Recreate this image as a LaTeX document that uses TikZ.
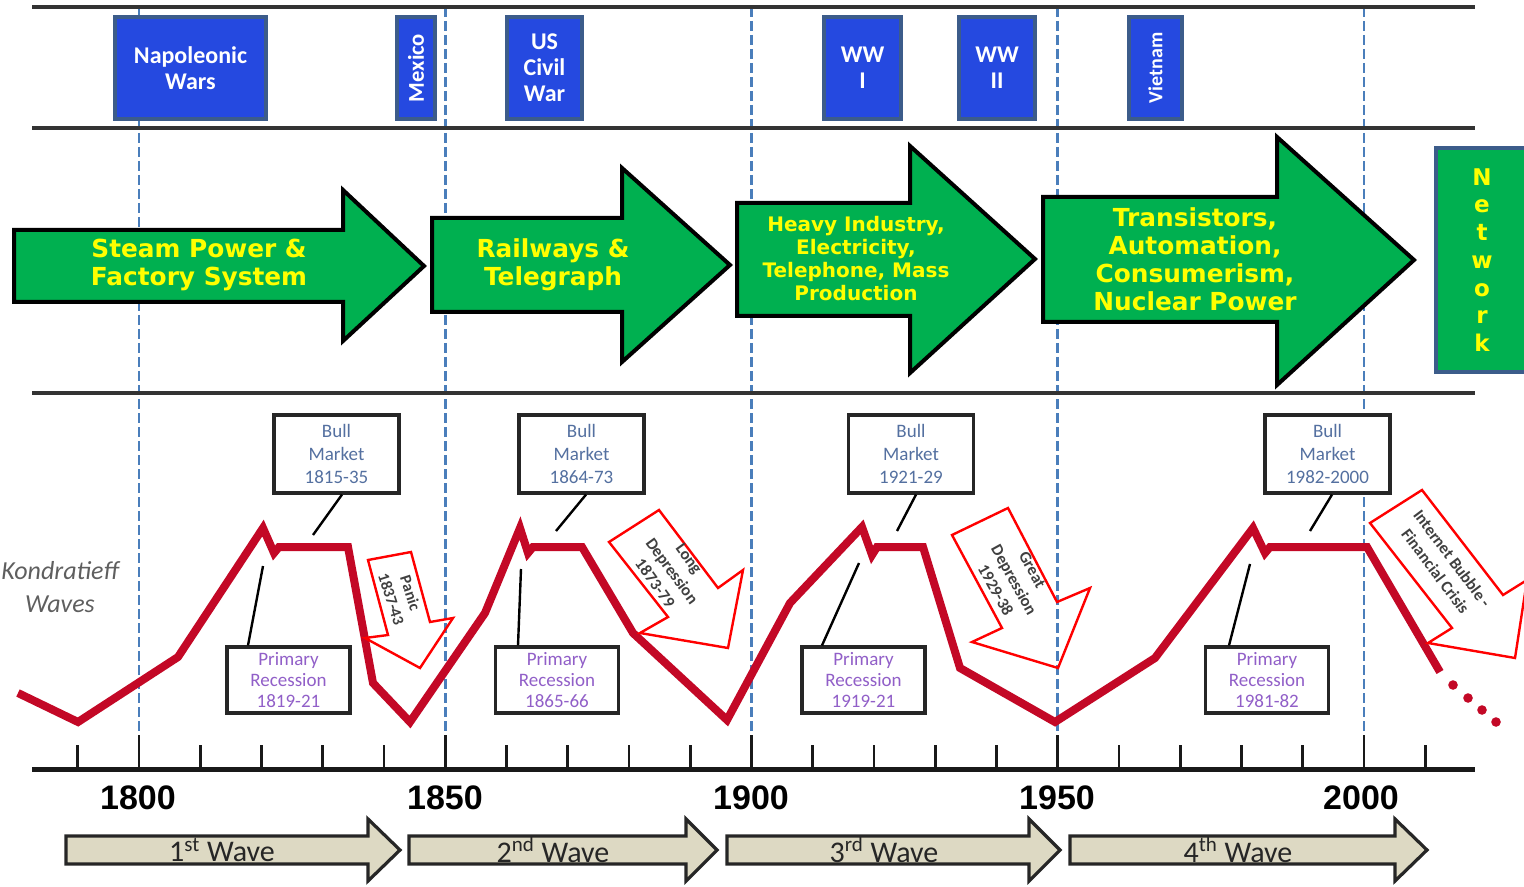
\documentclass[tikz,border=0pt]{standalone}
\usepackage{fontspec}
\setmainfont{Carlito}
\newfontfamily\dvfont{DejaVu Sans}
\newfontfamily\arfont{Liberation Sans}
\usetikzlibrary{calc}
\definecolor{evblue}{RGB}{37,73,224}
\definecolor{evborder}{RGB}{60,92,138}
\definecolor{gfill}{RGB}{0,176,80}
\definecolor{gtextc}{RGB}{255,255,0}
\definecolor{dashblue}{RGB}{74,126,187}
\definecolor{crimsonw}{RGB}{195,8,38}
\definecolor{beige}{RGB}{221,217,195}
\definecolor{bulltext}{RGB}{84,112,160}
\definecolor{primtext}{RGB}{145,95,200}
\definecolor{kgray}{RGB}{95,95,95}
\definecolor{redarr}{RGB}{255,0,0}
\begin{document}
\begin{tikzpicture}[x=0.5pt,y=-0.5pt,
  sepline/.style={draw=black!80,line width=2pt},
  vdash/.style={draw=dashblue,line width=1.4pt,dash pattern=on 5pt off 2pt},
  evbox/.style={draw=evborder,fill=evblue,line width=1.6pt,text=white,inner sep=0pt,align=center,
    font=\bfseries\fontsize{12}{13}\selectfont},
  garrow/.style={draw=black,fill=gfill,line width=2pt,line join=miter},
  gtext/.style={text=gtextc,align=center,font=\dvfont\bfseries\fontsize{12.4}{14}\selectfont},
  wavepath/.style={draw=crimsonw,line width=4pt,line join=miter,miter limit=4},
  bullbox/.style={draw=black!85,fill=white,line width=1.6pt,minimum width=62.5pt,minimum height=39pt,
    inner sep=0pt,align=center,text=bulltext,font=\fontsize{9.5}{11.5}\selectfont},
  primbox/.style={draw=black!85,fill=white,line width=1.6pt,minimum width=61.5pt,minimum height=33pt,
    inner sep=0pt,align=center,text=primtext,font=\fontsize{9.5}{10.6}\selectfont},
  callout/.style={draw=black,line width=1.2pt},
  redarrow/.style={draw=redarr,line width=1.2pt,line join=miter},
  redtext/.style={text=black!75,align=center,inner sep=0pt,font=\bfseries\fontsize{8.3}{10.5}\selectfont},
  axline/.style={draw=black!90,line width=2.5pt},
  axtick/.style={draw=black!90,line width=1.4pt},
  yearlbl/.style={font=\arfont\bfseries\fontsize{17}{20}\selectfont},
  wavearrow/.style={draw=black!85,fill=beige,line width=1.6pt,line join=miter},
  wavelbl/.style={text=black!85,font=\fontsize{15}{18}\selectfont}
]
\useasboundingbox (0,0) rectangle (1524,887);

% dashed year lines
\foreach \x in {139,445.25,751.5,1057.75,1364}{\draw[vdash] (\x,7) -- (\x,769);}

% separator lines
\draw[sepline] (32,7) -- (1475,7);
\draw[sepline] (32,128) -- (1475,128);
\draw[sepline] (32,393) -- (1475,393);

% events
\node[evbox,minimum width=75.5pt,minimum height=51pt] (nap) at (190.5,68) {Napoleonic\\Wars};
\node[evbox,minimum width=19pt,minimum height=51pt] (mex) at (416,68) {\fontsize{11.3}{12}\selectfont\rotatebox{90}{Mexico}};
\node[evbox,minimum width=37.5pt,minimum height=51pt] (usc) at (544.5,68) {US\\Civil\\War};
\node[evbox,minimum width=38.5pt,minimum height=51pt] (ww1) at (862.5,68) {WW\\I};
\node[evbox,minimum width=38pt,minimum height=51pt] (ww2) at (997,68) {WW\\II};
\node[evbox,minimum width=26.5pt,minimum height=51pt] (viet) at (1155.5,68) {\fontsize{10}{11}\selectfont\rotatebox{90}{Vietnam}};

% green technology arrows
\draw[garrow] (14,230) -- (343,230) -- (343,190) -- (424,266) -- (343,341) -- (343,302) -- (14,302) -- cycle;
\node[gtext] (g1) at (199,265) {Steam Power \&\\Factory System};
\draw[garrow] (432,218) -- (622,218) -- (622,168) -- (730,265) -- (622,362) -- (622,312) -- (432,312) -- cycle;
\node[gtext] (g2) at (553,265) {Railways \&\\Telegraph};
\draw[garrow] (737,203) -- (910,203) -- (910,146) -- (1035,259) -- (910,373) -- (910,316) -- (737,316) -- cycle;
\node[gtext,font=\dvfont\bfseries\fontsize{10}{11.5}\selectfont] (g3) at (856,259) {Heavy Industry,\\Electricity,\\Telephone, Mass\\Production};
\draw[garrow] (1043,197) -- (1277,197) -- (1277,137) -- (1414,260) -- (1277,385) -- (1277,322) -- (1043,322) -- cycle;
\node[gtext] (g4) at (1195,259) {Transistors,\\Automation,\\Consumerism,\\Nuclear Power};
\begin{scope}
\clip (0,0) rectangle (1524,887);
\node[draw=evborder,fill=gfill,line width=2pt,minimum width=50pt,minimum height=112pt,inner sep=0pt] (netbox) at (1486,260) {};
\end{scope}
\node[gtext,font=\dvfont\bfseries\fontsize{11.5}{13.85}\selectfont] (net) at (1482,260) {N\\e\\t\\w\\o\\r\\k};

% Kondratieff label
\node[text=kgray,align=center,font=\itshape\fontsize{13}{16.5}\selectfont] (kond) at (60,587) {Kondratieff\\Waves};

% red wave
\draw[wavepath] (18,693) -- (78,722) -- (178,657) -- (263,528) -- (274,553) -- (279,547) -- (348,547)
  -- (373,683) -- (410,722) -- (485,613) -- (520,528) -- (528,553) -- (533,547) -- (582,547)
  -- (633,633) -- (727,720) -- (790,603) -- (862,527) -- (872,555) -- (877,547) -- (923,547)
  -- (960,668) -- (1055,722) -- (1155,658) -- (1253,528) -- (1265,553) -- (1270,547) -- (1367,547)
  -- (1440,672);
\foreach \x/\y in {1453/685,1468/698,1482/710,1496/722}{\fill[crimsonw] (\x,\y) circle (2.4pt);}

% red outlined crisis arrows
\draw[redarrow] (368,560) -- (411,552) -- (430,622) -- (453,618) -- (420,668) -- (365,638) -- (388,635) -- cycle;
\node[redtext,rotate=-72,font=\bfseries\fontsize{8}{10}\selectfont] (panic) at (401,596) {Panic\\1837-43};
\draw[redarrow] (609,542) -- (659,510) -- (718,588) -- (743,570) -- (728,648) -- (640,633) -- (668,617) -- cycle;
\node[redtext,rotate=-54] (longdep) at (672,571) {Long\\Depression\\1873-79};
\draw[redarrow] (952,535) -- (1008,508) -- (1057,602) -- (1090,588) -- (1058,668) -- (972,642) -- (1002,628) -- cycle;
\node[redtext,rotate=-61] (greatdep) at (1014,580) {Great\\Depression\\1929-38};
\draw[redarrow] (1370,523) -- (1422,490) -- (1503,595) -- (1527,580) -- (1515,658) -- (1428,643) -- (1452,628) -- cycle;
\node[redtext,rotate=-53,font=\bfseries\fontsize{8.3}{10.5}\selectfont] (netcrisis) at (1444,565) {Internet Bubble -\\Financial Crisis};

% bull market boxes
\node[bullbox] (bull1) at (336.5,454) {Bull\\Market\\1815-35};
\node[bullbox] (bull2) at (581.5,454) {Bull\\Market\\1864-73};
\node[bullbox] (bull3) at (911,454) {Bull\\Market\\1921-29};
\node[bullbox] (bull4) at (1327.5,454) {Bull\\Market\\1982-2000};
\coordinate (bw1) at (313,535);
\coordinate (bw2) at (556,531);
\coordinate (bw3) at (897,531);
\coordinate (bw4) at (1310,531);
\draw[callout] ($(bull1.south)+(5.5,0)$) -- (bw1);
\draw[callout] ($(bull2.south)+(4.5,0)$) -- (bw2);
\draw[callout] ($(bull3.south)+(5,0)$) -- (bw3);
\draw[callout] ($(bull4.south)+(4.5,0)$) -- (bw4);

% primary recession boxes
\node[primbox] (prim1) at (288.5,680) {Primary\\Recession\\1819-21};
\node[primbox] (prim2) at (557,680) {Primary\\Recession\\1865-66};
\node[primbox] (prim3) at (863.5,680) {Primary\\Recession\\1919-21};
\node[primbox] (prim4) at (1267,680) {Primary\\Recession\\1981-82};
\coordinate (pw1) at (263,566);
\coordinate (pw2) at (521,569);
\coordinate (pw3) at (859,563);
\coordinate (pw4) at (1250,564);
\draw[callout] ($(prim1.north)+(-40.5,0)$) -- (pw1);
\draw[callout] ($(prim2.north)+(-39,0)$) -- (pw2);
\draw[callout] ($(prim3.north)+(-41.5,0)$) -- (pw3);
\draw[callout] ($(prim4.north)+(-38,0)$) -- (pw4);

% time axis
\foreach \i in {0,...,22}{\pgfmathsetmacro\xx{77.75+61.25*\i}\draw[axtick] (\xx,745) -- (\xx,769);}
\foreach \x in {139,445.25,751.5,1057.75,1364}{\draw[axtick] (\x,735) -- (\x,769);}
\draw[axline] (32,769) -- (1475,769);
\node[yearlbl] (y1800) at (138,798) {1800};
\node[yearlbl] (y1850) at (445,798) {1850};
\node[yearlbl] (y1900) at (751,798) {1900};
\node[yearlbl] (y1950) at (1057,798) {1950};
\node[yearlbl] (y2000) at (1361,798) {2000};

% wave arrows
\draw[wavearrow] (66,836) -- (368,836) -- (368,819) -- (400,850) -- (368,881) -- (368,864) -- (66,864) -- cycle;
\node[wavelbl] (wave1) at (222,850) {1\textsuperscript{st} Wave};
\draw[wavearrow] (409,836) -- (686,836) -- (686,819) -- (717,850) -- (686,881) -- (686,864) -- (409,864) -- cycle;
\node[wavelbl] (wave2) at (553,850) {2\textsuperscript{nd} Wave};
\draw[wavearrow] (727,836) -- (1029,836) -- (1029,819) -- (1060,850) -- (1029,881) -- (1029,864) -- (727,864) -- cycle;
\node[wavelbl] (wave3) at (884,850) {3\textsuperscript{rd} Wave};
\draw[wavearrow] (1070,836) -- (1395,836) -- (1395,819) -- (1427,850) -- (1395,881) -- (1395,864) -- (1070,864) -- cycle;
\node[wavelbl] (wave4) at (1238,850) {4\textsuperscript{th} Wave};
\end{tikzpicture}
\end{document}
